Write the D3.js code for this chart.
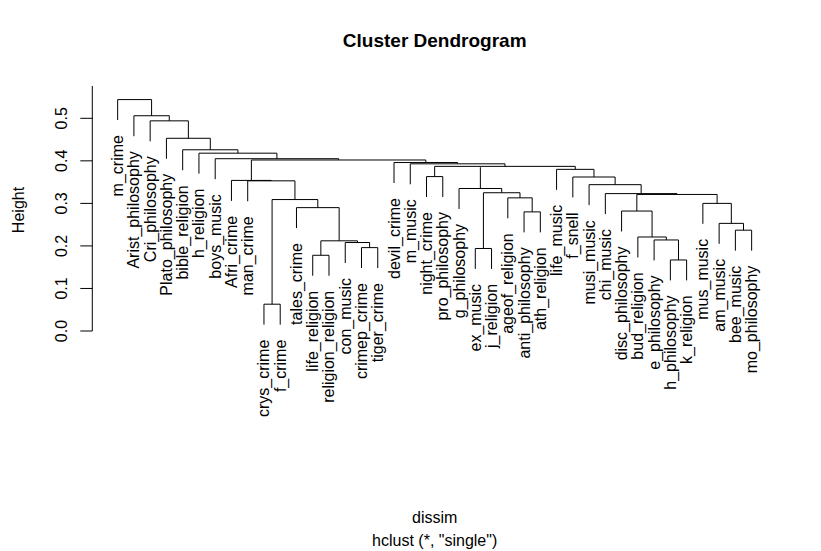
<!DOCTYPE html>
<html>
<head>
<meta charset="utf-8">
<script src="https://cdn.jsdelivr.net/npm/d3@7"></script>
<style>
  html, body { margin: 0; padding: 0; background: #fff; }
  svg { display: block; }
  text { font-family: "Liberation Sans", Arial, Helvetica, sans-serif; fill: #000; }
</style>
</head>
<body>
<svg id="chart" width="821" height="551"></svg>
<script>
// ---- data ----
const labels = [
  "m_crime","Arist_philosophy","Cri_philosophy","Plato_philosophy","bible_religion",
  "h_religion","boys_music","Afri_crime","man_crime","crys_crime",
  "f_crime","tales_crime","life_religion","religion_religion","con_music",
  "crimep_crime","tiger_crime","devil_crime","m_music","night_crime",
  "pro_philosophy","g_philosophy","ex_music","j_religion","ageof_religion",
  "anti_philosophy","ath_religion","life_music","f_snell","musi_music",
  "chi_music","disc_philosophy","bud_religion","e_philosophy","h_philosophy",
  "k_religion","mus_music","am_music","bee_music","mo_philosophy"
];
// R-style merge matrix: negative = leaf (1-based, in plot order), positive = earlier merge step
const mergeA = [-10,-35,-13,-23,-16,-15, 3,-34,-33,-39,-38,-26,-32,-12,-37, 1,-25,13,-31, 4,-22,-30, -9, -8,-29,-20,-28,21,26,-19,-18,24, -7, -6, -5, -4, -3, -2, -1];
const mergeB = [-11,-36,-14,-24,-17,  5, 6,  2,  8,-40, 10,-27,  9,  7, 11,14, 12,15, 18,17, 20, 19, 16, 23, 22,-21, 25,28,27,29, 30,31, 32, 33, 34, 35, 36, 37, 38];
const heights = [0.063,0.167,0.178,0.194,0.196,0.208,0.212,0.214,0.221,0.237,0.253,0.280,0.282,0.290,0.300,0.309,0.313,0.321,0.323,0.325,0.335,0.344,0.353,0.354,0.362,0.363,0.380,0.385,0.387,0.393,0.396,0.402,0.405,0.418,0.426,0.453,0.494,0.506,0.544];
const yTicks = [0.0, 0.1, 0.2, 0.3, 0.4, 0.5];
const title = "Cluster Dendrogram";
const xTitle = "dissim";
const subTitle = 'hclust (*, "single")';
const yTitle = "Height";

// ---- layout ----
const svg = d3.select("#chart");
const n = labels.length;
const ext = 0.04 * (n - 1);
const x = d3.scaleLinear().domain([1 - ext, n + ext]).range([92.3, 777]);
const y = d3.scaleLinear().domain([0, 0.5]).range([331, 118.3]);
const hang = 0.1 * (d3.max(heights) - d3.min(heights));

// node x positions (midpoints, like R's plot.hclust)
const nodeX = [];
function childX(c) { return c < 0 ? x(-c) : nodeX[c - 1]; }
for (let i = 0; i < heights.length; i++) {
  nodeX[i] = (childX(mergeA[i]) + childX(mergeB[i])) / 2;
}

const g = svg.append("g");
const leafBottom = {};
heights.forEach((h, i) => {
  const a = mergeA[i], b = mergeB[i];
  const xa = childX(a), xb = childX(b);
  const ya = a < 0 ? h - hang : heights[a - 1];
  const yb = b < 0 ? h - hang : heights[b - 1];
  if (a < 0) leafBottom[-a] = h - hang;
  if (b < 0) leafBottom[-b] = h - hang;
  const p = d3.path();
  p.moveTo(xa, y(ya));
  p.lineTo(xa, y(h));
  p.lineTo(xb, y(h));
  p.lineTo(xb, y(yb));
  g.append("path").attr("d", p.toString())
    .attr("fill", "none").attr("stroke", "#000").attr("stroke-width", 1);
});

// leaf labels
labels.forEach((lab, i) => {
  const k = i + 1;
  svg.append("text")
    .attr("transform", `translate(${x(k) + 5.5},${y(leafBottom[k]) + 15}) rotate(-90)`)
    .attr("text-anchor", "end")
    .attr("font-size", 16)
    .text(lab);
});

// y axis
const axisG = svg.append("g").attr("transform", "translate(92.3,0)");
axisG.append("line").attr("x1", 0).attr("x2", 0)
  .attr("y1", y(0)).attr("y2", 86).attr("stroke", "#000");
yTicks.forEach(t => {
  axisG.append("line").attr("x1", 0).attr("x2", -12)
    .attr("y1", y(t)).attr("y2", y(t)).attr("stroke", "#000");
  axisG.append("text")
    .attr("transform", `translate(-25,${y(t)}) rotate(-90)`)
    .attr("text-anchor", "middle")
    .attr("font-size", 16)
    .text(d3.format(".1f")(t));
});

// titles
svg.append("text").attr("x", 434.7).attr("y", 47)
  .attr("text-anchor", "middle").attr("font-size", 19).attr("font-weight", "bold")
  .text(title);
svg.append("text").attr("x", 434.7).attr("y", 523)
  .attr("text-anchor", "middle").attr("font-size", 16).text(xTitle);
svg.append("text").attr("x", 434.7).attr("y", 546)
  .attr("text-anchor", "middle").attr("font-size", 16).text(subTitle);
svg.append("text")
  .attr("transform", `translate(24,210) rotate(-90)`)
  .attr("text-anchor", "middle").attr("font-size", 16).text(yTitle);
</script>
</body>
</html>
